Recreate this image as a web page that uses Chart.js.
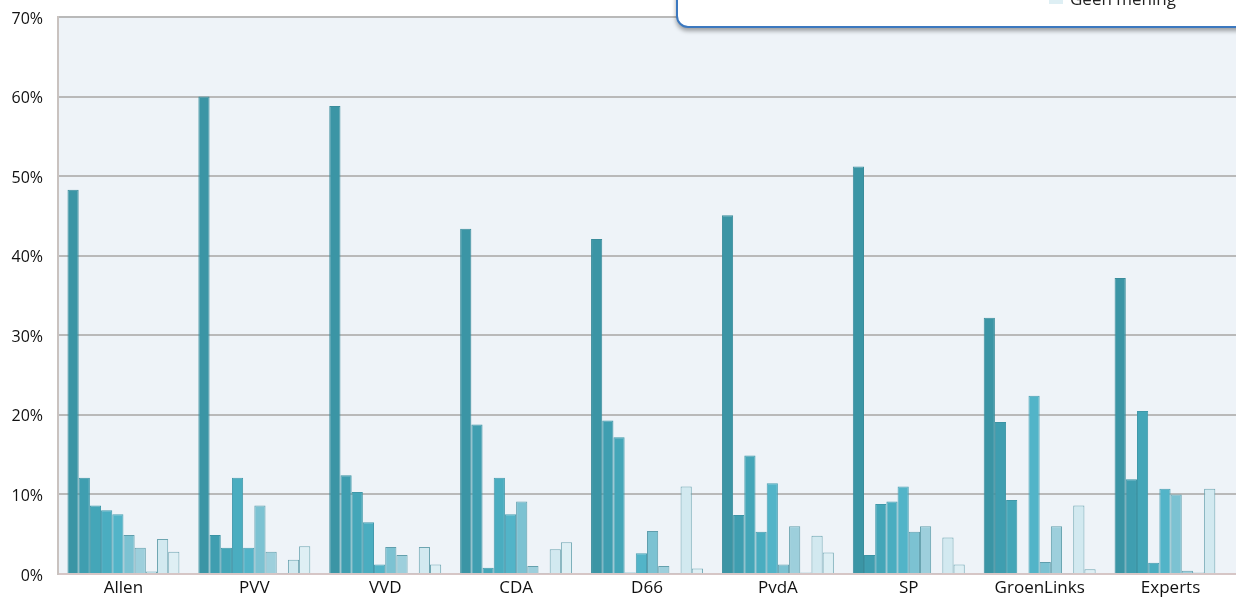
<!DOCTYPE html>
<html>
<head>
<meta charset="utf-8">
<script src="https://cdn.jsdelivr.net/npm/chart.js@4"></script>
<style>
  html, body { margin: 0; padding: 0; background: #fff; overflow: hidden; }
  #wrap { position: relative; width: 1236px; height: 599px; }
  #legendBox {
    position: absolute; left: 676px; top: -60px; width: 620px; height: 84px;
    background: #fff; border: 2px solid #3b78bf; border-radius: 12px;
    box-shadow: 0 3px 4px rgba(0,0,0,0.35);
    font-family: "Open Sans", sans-serif; font-size: 17px; color: #222;
    z-index: 2;
  }
  .item { position: absolute; white-space: nowrap; line-height: 17px; }
  .sw { display: inline-block; width: 14px; height: 10px; margin-right: 7px; vertical-align: 1px; }
</style>
</head>
<body>
<div id="wrap">
  <canvas id="bar-chart" width="1236" height="599"></canvas>
  <div id="legendBox"></div>
</div>
<script>
// categories and values (percent), one array per answer
var categories = ['Allen', 'PVV', 'VVD', 'CDA', 'D66', 'PvdA', 'SP', 'GroenLinks', 'Experts'];
var seriesLabels = ['Antwoord 1', 'Antwoord 2', 'Antwoord 3', 'Antwoord 4', 'Antwoord 5',
                    'Antwoord 6', 'Antwoord 7', 'Antwoord 8', 'Antwoord 9', 'Geen mening'];
var s1  = [48.3, 60.0, 58.8, 43.4, 42.1, 45.1, 51.2, 32.2, 37.2];
var s2  = [12.1, 4.9, 12.4, 18.8, 19.3, 7.4, 2.4, 19.1, 11.9];
var s3  = [8.6, 3.3, 10.3, 0.8, 17.2, 14.9, 8.8, 9.3, 20.5];
var s4  = [8.0, 12.1, 6.5, 12.1, 0.2, 5.3, 9.1, 0.0, 1.4];
var s5  = [7.5, 3.3, 1.2, 7.5, 2.6, 11.4, 11.0, 22.4, 10.7];
var s6  = [4.9, 8.6, 3.4, 9.1, 5.4, 1.2, 5.3, 1.5, 10.0];
var s7  = [3.3, 2.8, 2.4, 1.0, 1.0, 6.0, 6.0, 6.0, 0.4];
var s8  = [0.3, 0.1, 0.1, 0.1, 0.1, 0.2, 0.1, 0.1, 0.2];
var s9  = [4.4, 1.8, 3.4, 3.1, 11.0, 4.8, 4.6, 8.6, 10.7];
var s10 = [2.8, 3.5, 1.2, 4.0, 0.7, 2.7, 1.2, 0.6, 0.0];
var yTicks = [0, 10, 20, 30, 40, 50, 60, 70];

var fills   = ['#3b95a5', '#3f9eb0', '#44a6b8', '#4aadc0', '#52b4c8', '#7cc2d2', '#9dcfdc', '#b6dbe5', '#d2e9f0', '#deeff4'];
var borders = ['#3a8c9b', '#3b93a4', '#3f98a9', '#4399ac', '#4a9fb2', '#5f9ead', '#64a0ad', '#6aa2ae', '#6da5b1', '#70a7b3'];

var allSeries = [s1, s2, s3, s4, s5, s6, s7, s8, s9, s10];
var datasets = allSeries.map(function(vals, i) {
    return {
        label: seriesLabels[i],
        data: vals,
        backgroundColor: fills[i],
        borderColor: borders[i],
        borderWidth: 1,
        borderSkipped: 'bottom'
    };
});

// light plot background behind the bars
var plotBg = {
    id: 'plotBg',
    beforeDraw: function(chart) {
        var a = chart.chartArea, c = chart.ctx;
        c.save();
        c.fillStyle = '#eef3f8';
        c.fillRect(a.left, a.top, a.right - a.left, a.bottom - a.top);
        c.restore();
    }
};

var ctx = document.getElementById('bar-chart').getContext('2d');
new Chart(ctx, {
    type: 'bar',
    data: { labels: categories, datasets: datasets },
    options: {
        responsive: false,
        animation: false,
        layout: { padding: { top: 17, right: 0, left: 0, bottom: 0 } },
        datasets: { bar: { categoryPercentage: 0.855, barPercentage: 1.0 } },
        plugins: { legend: { display: false }, tooltip: { enabled: false } },
        scales: {
            x: {
                grid: { display: false, drawTicks: false },
                border: { color: '#d6c6c6', width: 2 },
                ticks: { color: '#111', font: { family: 'Open Sans', size: 17 }, padding: 4 },
                afterFit: function(s) { s.height = 25; }
            },
            y: {
                min: 0, max: 70,
                afterBuildTicks: function(s) { s.ticks = yTicks.map(function(v) { return { value: v }; }); },
                grid: { color: '#b9b9b9', lineWidth: 2, drawTicks: false },
                border: { color: '#c9c2bf', width: 2 },
                ticks: {
                    color: '#111', font: { family: 'Open Sans', size: 16 }, padding: 15, labelOffset: 2,
                    callback: function(v) { return v + '%'; }
                },
                afterFit: function(s) { s.width = 58; s.paddingTop = 0; s.paddingBottom = 0; }
            }
        }
    },
    plugins: [plotBg]
});

// custom legend box, mostly above the picture: only the last entry shows
var box = document.getElementById('legendBox');
var it = document.createElement('div');
it.className = 'item';
it.style.left = '371px';
it.style.top = '48px';
it.innerHTML = '<span class="sw" style="background:' + fills[9] + '"></span>' + seriesLabels[9];
box.appendChild(it);
</script>
</body>
</html>
